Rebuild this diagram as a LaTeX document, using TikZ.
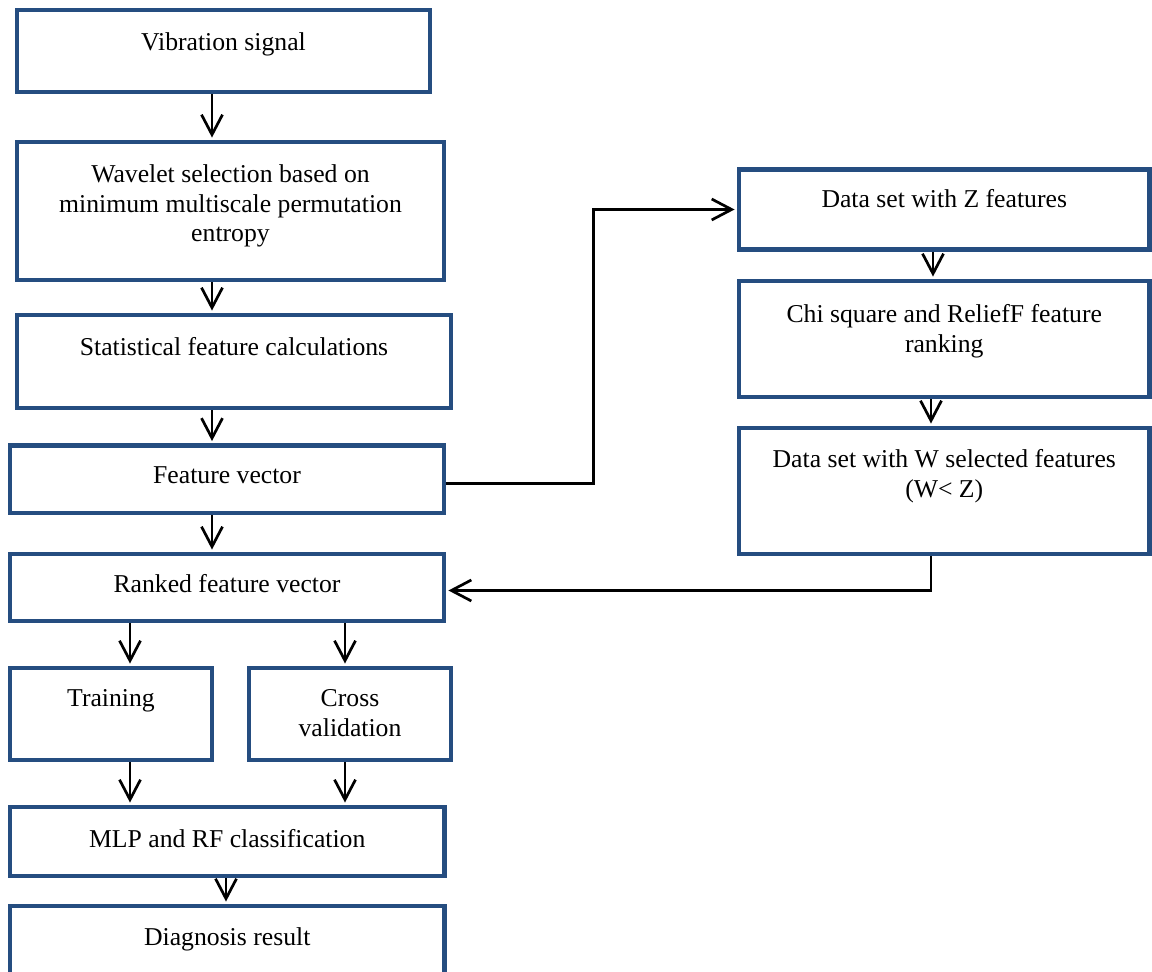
\documentclass[tikz,border=0pt]{standalone}
\usepackage{fontspec}
\setmainfont{Liberation Serif}
\usetikzlibrary{arrows.meta,fit}
\definecolor{boxblue}{RGB}{37,77,128}
\tikzset{
  box/.style={draw=boxblue, line width=2.25pt, inner sep=0pt, rectangle},
  txt/.style={inner sep=0pt, align=center, anchor=north, font=\fontsize{12.85}{14.8}\selectfont},
  arr/.style={draw=black, line width=1.35pt, -{Straight Barb[length=10pt,width=10.5pt,line width=1.35pt]}, shorten >=1.1pt},
  link/.style={draw=black, line width=1.35pt}
}
\begin{document}
\begin{tikzpicture}[x=0.5pt,y=-0.5pt]
\useasboundingbox (0,0) rectangle (1152,972);
\clip (0,0) rectangle (1152,972);
% boxes
\node[box, fit={(17,10) (430,92)}] (B1) {};
\node[box, fit={(17,142) (444,280)}] (B2) {};
\node[box, fit={(17,315) (451,408)}] (B3) {};
\node[box, fit={(10,445.5) (444,513)}] (B4) {};
\node[box, fit={(10,554) (444,621)}] (B5) {};
\node[box, fit={(10,668) (212,760)}] (B6) {};
\node[box, fit={(249,668) (451,760)}] (B7) {};
\node[box, fit={(10,807) (444.5,876)}] (B8) {};
\node[box, fit={(10,906) (444.5,1000)}] (B9) {};
\node[box, fit={(739,169.5) (1149.5,249.5)}] (Z) {};
\node[box, fit={(739,281) (1149.5,397)}] (C) {};
\node[box, fit={(739,428) (1149.5,554)}] (W) {};
% texts
\node[txt] (T1) at ([yshift=-12.3pt]B1.north) {Vibration signal};
\node[txt] (T2) at ([yshift=-12.3pt]B2.north) {Wavelet selection based on\\minimum multiscale permutation\\entropy};
\node[txt] (T3) at ([yshift=-12.3pt]B3.north) {Statistical feature calculations};
\node[txt] (T4) at ([yshift=-11.3pt]B4.north) {Feature vector};
\node[txt] (T5) at ([yshift=-11.3pt]B5.north) {Ranked feature vector};
\node[txt] (T6) at ([yshift=-11.8pt]B6.north) {Training};
\node[txt] (T7) at ([yshift=-11.8pt]B7.north) {Cross\\validation};
\node[txt] (T8) at ([yshift=-12.3pt]B8.north) {MLP and RF classification};
\node[txt] (T9) at ([yshift=-11.8pt]B9.north) {Diagnosis result};
\node[txt] (TZ) at ([yshift=-10.8pt]Z.north) {Data set with Z features};
\node[txt] (TC) at ([yshift=-12.8pt]C.north) {Chi square and ReliefF feature\\ranking};
\node[txt] (TW) at ([yshift=-11.8pt]W.north) {Data set with W selected features\\(W< Z)};
% arrow x positions
\coordinate (xa) at (212,0);
\coordinate (xb) at (130,0);
\coordinate (xc) at (345,0);
\coordinate (xd) at (226,0);
\coordinate (xe) at (933,0);
\coordinate (xf) at (931,0);
% vertical arrows
\draw[arr] (B1.south -| xa) -- (B2.north -| xa);
\draw[arr] (B2.south -| xa) -- (B3.north -| xa);
\draw[arr] (B3.south -| xa) -- (B4.north -| xa);
\draw[arr] (B4.south -| xa) -- (B5.north -| xa);
\draw[arr] (B5.south -| xb) -- (B6.north -| xb);
\draw[arr] (B5.south -| xc) -- (B7.north -| xc);
\draw[arr] (B6.south -| xb) -- (B8.north -| xb);
\draw[arr] (B7.south -| xc) -- (B8.north -| xc);
\draw[arr] (B8.south -| xd) -- (B9.north -| xd);
\draw[arr] (Z.south -| xe) -- (C.north -| xe);
\draw[arr] (C.south -| xf) -- (W.north -| xf);
% side connectors
\draw[arr] ([yshift=-2pt]B4.east) -- ++(73.5pt,0) |- (Z.west);
\draw[arr] (W.south -| xf) |- ([yshift=-1.5pt]B5.east);
\end{tikzpicture}
\end{document}
